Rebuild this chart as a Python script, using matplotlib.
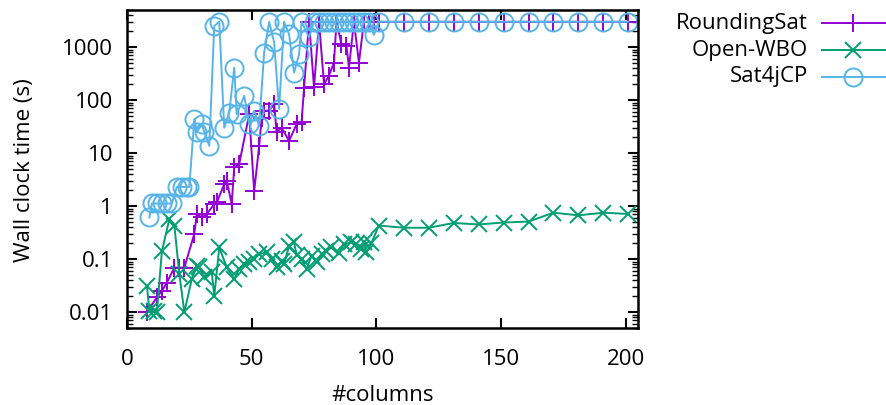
import matplotlib
matplotlib.use('Agg')
import matplotlib.pyplot as plt
from matplotlib.lines import Line2D
from matplotlib.ticker import LogLocator, NullFormatter, FixedLocator

plt.rcParams['font.family'] = ['Open Sans', 'DejaVu Sans']

# RoundingSat
rs_x = [8, 12, 14, 16, 19, 21, 23, 27, 28, 30, 32, 35, 36, 39, 40, 42, 43, 45,
        49, 51, 53, 54, 55, 57, 59, 60, 62, 65, 68, 70, 71, 73, 75, 77, 79, 81,
        83, 84, 86, 88, 89, 91, 93, 95, 97, 99, 101, 111, 121, 131, 141, 151,
        161, 171, 181, 191, 201]
rs_y = [0.01, 0.019, 0.025, 0.036, 0.069, 0.069, 0.069, 0.30, 0.71, 0.61, 0.71,
        1.09, 1.17, 2.6, 3.0, 1.09, 5.4, 6.2, 54, 1.9, 13.7, 45, 63, 63, 84, 25,
        30, 17, 35, 38, 170, 3000, 173, 3000, 200, 290, 510, 3000, 1140, 1060,
        410, 3000, 510, 3000, 3000, 3000, 3000, 3000, 3000, 3000, 3000, 3000,
        3000, 3000, 3000, 3000, 3000]

# Open-WBO
ow_x = [8, 9, 11, 12, 14, 17, 19, 21, 23, 26, 28, 29, 31, 34, 35, 37, 40, 43,
        45, 47, 49, 51, 53, 56, 58, 60, 62, 63, 65, 67, 68, 70, 72, 74, 76, 78,
        80, 82, 85, 87, 90, 92, 94, 95, 96, 98, 101, 111, 121, 131, 141, 151,
        161, 171, 181, 191, 201]
ow_y = [0.031, 0.0106, 0.0106, 0.01, 0.14, 0.57, 0.43, 0.052, 0.01, 0.042,
        0.075, 0.07, 0.045, 0.056, 0.02, 0.166, 0.07, 0.042, 0.065, 0.08, 0.09,
        0.1, 0.124, 0.134, 0.1, 0.07, 0.093, 0.08, 0.178, 0.206, 0.12, 0.1,
        0.065, 0.116, 0.09, 0.124, 0.144, 0.166, 0.13, 0.192, 0.206, 0.19,
        0.155, 0.21, 0.134, 0.2, 0.43, 0.39, 0.39, 0.48, 0.45, 0.49, 0.51,
        0.75, 0.67, 0.75, 0.71]

# Sat4jCP
sj_x = [9, 10, 12, 14, 16, 18, 20, 22, 24, 25, 27, 28, 30, 31, 33, 35, 37, 39,
        41, 43, 44, 47, 49, 51, 53, 55, 57, 59, 61, 63, 65, 67, 69, 70, 73, 75,
        77, 79, 81, 83, 85, 87, 89, 91, 93, 95, 97, 99, 101, 111, 121, 131, 141,
        151, 161, 171, 181, 191, 201]
sj_y = [0.61, 1.12, 1.12, 1.12, 1.12, 1.12, 2.3, 2.3, 2.3, 2.3, 44, 25, 35, 25,
        13.7, 2500, 3000, 30, 58, 410, 54, 120, 35, 63, 33, 790, 3000, 1230, 68,
        3000, 1750, 330, 730, 3000, 1520, 3000, 3000, 3000, 3000, 3000, 3000,
        3000, 3000, 3000, 3000, 3000, 3000, 1700, 3000, 3000, 3000, 3000, 3000,
        3000, 3000, 3000, 3000, 3000, 3000]

names = ['RoundingSat', 'Open-WBO', 'Sat4jCP']
colors = ['#9400d3', '#009e73', '#56b4e9']
markers = ['+', 'x', 'o']
msizes = [13, 11, 13]
fs = 16

fig = plt.figure(figsize=(8.86, 4.05), dpi=100)
ax = fig.add_axes([0.1433, 0.19, 0.5771, 0.7852])

for (xs, ys), c, m, ms in zip([(rs_x, rs_y), (ow_x, ow_y), (sj_x, sj_y)],
                              colors, markers, msizes):
    ax.plot(xs, ys, color=c, marker=m, markersize=ms, markeredgewidth=1.4,
            markerfacecolor='none', linewidth=1.4)

ax.set_yscale('log')
ax.set_xlim(0, 205)
ax.set_ylim(0.005, 5000)
ax.xaxis.set_major_locator(FixedLocator([0, 50, 100, 150, 200]))
ax.set_yticks([0.01, 0.1, 1, 10, 100, 1000])
ax.set_yticklabels(['0.01', '0.1', '1', '10', '100', '1000'])
ax.yaxis.set_minor_locator(LogLocator(base=10, subs=range(2, 10)))
ax.yaxis.set_minor_formatter(NullFormatter())

ax.tick_params(which='both', direction='in', top=True, right=True,
               labelsize=fs, width=1.5)
ax.tick_params(which='major', length=7)
ax.tick_params(which='minor', length=4, width=1)
ax.tick_params(axis='y', pad=10)
ax.tick_params(axis='x', pad=15)
for s in ax.spines.values():
    s.set_linewidth(1.8)

ax.set_xlabel('#columns', fontsize=fs)
ax.set_ylabel('Wall clock time (s)', fontsize=fs)
ax.xaxis.set_label_coords(0.5, -0.178)
ax.yaxis.set_label_coords(-0.18, 0.497)

# legend, right aligned like gnuplot
ys_leg = [0.9425, 0.8765, 0.8106]
for name, c, m, ms, yl in zip(names, colors, markers, msizes, ys_leg):
    fig.text(0.912, yl, name, ha='right', va='center', fontsize=fs)
    fig.add_artist(Line2D([0.9278, 1.0], [yl, yl], color=c, linewidth=1.4,
                          transform=fig.transFigure))
    fig.add_artist(Line2D([0.9628], [yl], color=c, marker=m, markersize=ms,
                          markeredgewidth=1.4, markerfacecolor='none',
                          transform=fig.transFigure))

fig.savefig('out.png', dpi=100)
